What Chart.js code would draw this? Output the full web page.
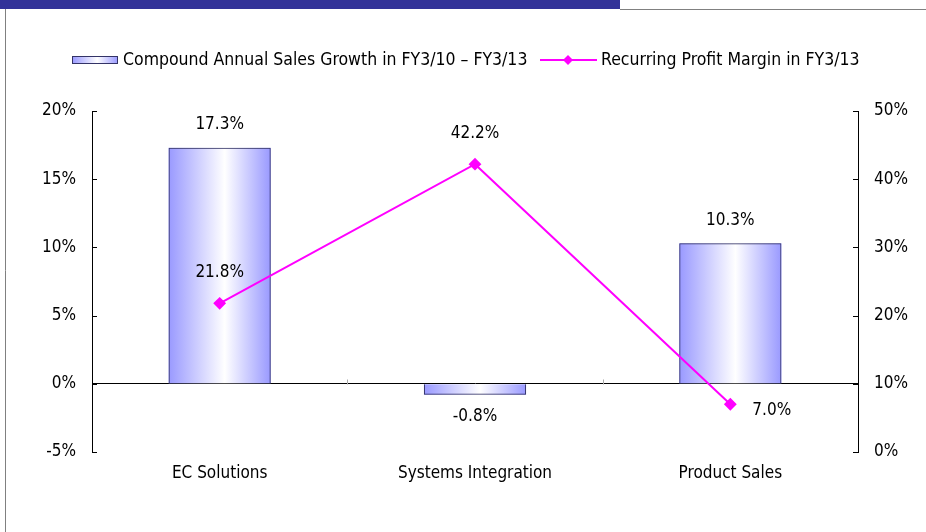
<!DOCTYPE html>
<html>
<head>
<meta charset="UTF-8">
<title>Sales Growth and Profit Margin</title>
<script src="https://cdn.jsdelivr.net/npm/chart.js@4.4.1/dist/chart.umd.min.js"></script>
<style>
  html, body { margin: 0; padding: 0; background: #fff; }
  #wrap { width: 926px; height: 532px; position: relative; }
</style>
</head>
<body>
<div id="wrap"><canvas id="chart" width="926" height="532"></canvas></div>
<script>
// data
const categories = ['EC Solutions', 'Systems Integration', 'Product Sales'];
const salesGrowth = [17.3, -0.8, 10.3];     // left axis, bars
const profitMargin = [21.8, 42.2, 7.0];     // right axis, line
const leftTicks = [-5, 0, 5, 10, 15, 20];
const rightTicks = [0, 10, 20, 30, 40, 50];
const barLabel = 'Compound Annual Sales Growth in FY3/10 \u2013 FY3/13';
const lineLabel = 'Recurring Profit Margin in FY3/13';

const FONT = '"DejaVu Sans Condensed", "Liberation Sans Narrow", sans-serif';

function barGradient(ctx, x0, x1) {
  const g = ctx.createLinearGradient(x0, 0, x1, 0);
  g.addColorStop(0, '#9999ff');
  g.addColorStop(0.55, '#ffffff');
  g.addColorStop(1, '#9999ff');
  return g;
}

const decor = {
  id: 'decor',
  beforeDraw(chart) {
    const c = chart.ctx;
    c.save();
    c.fillStyle = '#fff';
    c.fillRect(0, 0, chart.width, chart.height);
    // header band and frame
    c.fillStyle = '#333399';
    c.fillRect(0, 0, 620, 9);
    c.strokeStyle = '#808080';
    c.lineWidth = 1;
    c.beginPath();
    c.moveTo(620, 9.5); c.lineTo(chart.width, 9.5);
    c.moveTo(5.5, 9); c.lineTo(5.5, chart.height);
    c.stroke();
    c.restore();
  },
  beforeDatasetDraw(chart, args) {
    if (args.index !== 0) return;
    const c = chart.ctx;
    const meta = chart.getDatasetMeta(0);
    c.save();
    meta.data.forEach(bar => {
      const left = bar.x - bar.width / 2;
      const top = Math.min(bar.y, bar.base);
      const h = Math.abs(bar.base - bar.y);
      c.fillStyle = barGradient(c, left, left + bar.width);
      c.fillRect(left, top, bar.width, h);
    });
    c.restore();
  },
  afterDatasetsDraw(chart) {
    const c = chart.ctx;
    const area = chart.chartArea;
    const yL = chart.scales.y, yR = chart.scales.y1, x = chart.scales.x;
    c.save();
    // inward tick marks
    c.strokeStyle = '#000';
    c.lineWidth = 1;
    c.beginPath();
    leftTicks.forEach(v => {
      const py = Math.round(yL.getPixelForValue(v)) + 0.5;
      c.moveTo(area.left, py); c.lineTo(area.left + 5, py);
    });
    rightTicks.forEach(v => {
      const py = Math.round(yR.getPixelForValue(v)) + 0.5;
      c.moveTo(area.right, py); c.lineTo(area.right - 5, py);
    });
    c.stroke();
    // category separators on zero line
    c.strokeStyle = '#aaa';
    c.beginPath();
    const z = Math.round(yL.getPixelForValue(0)) + 0.5;
    for (let i = 1; i < categories.length; i++) {
      const px = Math.round((x.getPixelForValue(i - 1) + x.getPixelForValue(i)) / 2) + 0.5;
      c.moveTo(px, z); c.lineTo(px, z - 5);
    }
    c.stroke();

    // value labels
    c.fillStyle = '#000';
    c.font = '17px ' + FONT;
    c.textAlign = 'center';
    c.textBaseline = 'middle';
    chart.getDatasetMeta(0).data.forEach((bar, i) => {
      const v = salesGrowth[i];
      const py = v >= 0 ? bar.y - 23 : bar.y + 22;
      c.fillText(v.toFixed(1) + '%', bar.x, py);
    });
    chart.getDatasetMeta(1).data.forEach((pt, i) => {
      const v = profitMargin[i];
      if (i === categories.length - 1) {
        c.textAlign = 'left';
        c.fillText(v.toFixed(1) + '%', pt.x + 22, pt.y + 6);
      } else {
        c.textAlign = 'center';
        c.fillText(v.toFixed(1) + '%', pt.x, pt.y - 31);
      }
    });

    // legend
    const ly = 60;
    c.font = '17.5px ' + FONT;
    c.fillStyle = barGradient(c, 72, 118);
    c.fillRect(72, ly - 4, 46, 8);
    c.strokeStyle = '#333366';
    c.strokeRect(72.5, ly - 3.5, 45, 7);
    c.fillStyle = '#000';
    c.textAlign = 'left';
    c.fillText(barLabel, 123, ly);
    c.strokeStyle = '#ff00ff';
    c.lineWidth = 2;
    c.beginPath();
    c.moveTo(540, ly); c.lineTo(597, ly);
    c.stroke();
    c.fillStyle = '#ff00ff';
    c.beginPath();
    c.moveTo(568, ly - 5); c.lineTo(573, ly); c.lineTo(568, ly + 5); c.lineTo(563, ly);
    c.closePath(); c.fill();
    c.fillStyle = '#000';
    c.fillText(lineLabel, 601, ly);
    c.restore();
  }
};

new Chart(document.getElementById('chart'), {
  type: 'bar',
  data: {
    labels: categories,
    datasets: [
      {
        type: 'bar',
        label: barLabel,
        data: salesGrowth,
        yAxisID: 'y',
        backgroundColor: 'rgba(0,0,0,0)',
        borderColor: '#333366',
        borderWidth: 1,
        barPercentage: 0.4,
        categoryPercentage: 1,
        order: 2
      },
      {
        type: 'line',
        label: lineLabel,
        data: profitMargin,
        yAxisID: 'y1',
        borderColor: '#ff00ff',
        borderWidth: 2,
        pointStyle: 'rectRot',
        pointRadius: 5,
        pointBackgroundColor: '#ff00ff',
        pointBorderColor: '#ff00ff',
        tension: 0,
        order: 1
      }
    ]
  },
  options: {
    responsive: false,
    animation: false,
    layout: { padding: { top: 111, left: 0, right: 0, bottom: 0 } },
    plugins: { legend: { display: false }, tooltip: { enabled: false } },
    scales: {
      x: {
        grid: { display: false },
        border: { display: false },
        ticks: { color: '#000', font: { family: FONT, size: 17 }, padding: 3 },
        afterFit(s) { s.height = 80; }
      },
      y: {
        position: 'left',
        min: -5, max: 20,
        afterBuildTicks(s) { s.ticks = leftTicks.map(v => ({ value: v })); },
        ticks: { color: '#000', font: { family: FONT, size: 17 }, padding: 16, callback: v => v + '%' },
        grid: {
          drawTicks: false,
          color: ctx => ctx.tick && ctx.tick.value === 0 ? '#000' : 'rgba(0,0,0,0)'
        },
        border: { display: true, color: '#000' },
        afterFit(s) { s.width = 92; }
      },
      y1: {
        position: 'right',
        min: 0, max: 50,
        afterBuildTicks(s) { s.ticks = rightTicks.map(v => ({ value: v })); },
        ticks: { color: '#000', font: { family: FONT, size: 17 }, padding: 16, callback: v => v + '%' },
        grid: { display: false, drawTicks: false },
        border: { display: true, color: '#000' },
        afterFit(s) { s.width = 68; }
      }
    }
  },
  plugins: [decor]
});
</script>
</body>
</html>
